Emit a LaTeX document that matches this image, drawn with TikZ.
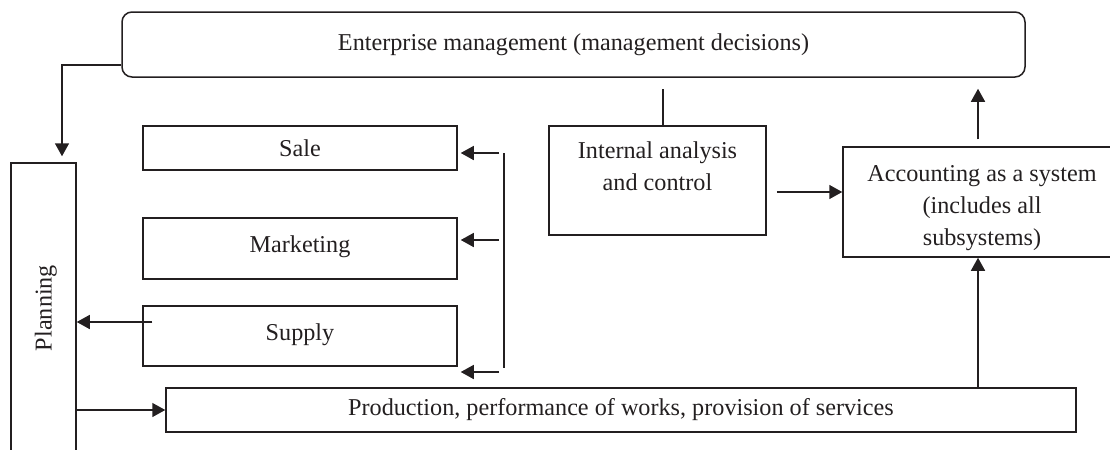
\documentclass[tikz,border=0pt]{standalone}
\usepackage{fontspec}
\setmainfont{Liberation Serif}
\usetikzlibrary{arrows.meta,calc}
\definecolor{ink}{HTML}{231F20}
\newcommand{\dnstrut}[1]{\rule[-#1]{0pt}{#1}}
\begin{document}
\begin{tikzpicture}[x=0.5pt,y=-0.5pt,
  box/.style={draw=ink, line width=0.75pt, inner sep=0pt, text=ink,
    font=\fontsize{12.1pt}{16pt}\selectfont, align=center},
  arr/.style={draw=ink, line width=0.75pt, -{Triangle[length=6.5pt,width=7pt]}},
  ln/.style={draw=ink, line width=0.75pt}]
\useasboundingbox (0,0) rectangle (1110,450);

% nodes
\node[box, rounded corners=5pt, minimum width=451.5pt, minimum height=32.5pt] (top) at (573.5,44.5)
  {Enterprise management (management decisions)\dnstrut{2.7pt}};
\node[box, minimum width=32.5pt, minimum height=145pt] (planning) at (43.5,308)
  {\rotatebox{90}{\rule{0pt}{10.8pt}Planning}};
\node[box, minimum width=157pt, minimum height=22pt] (sale) at (300,148) {Sale};
\node[box, minimum width=157pt, minimum height=30.5pt] (marketing) at (300,248.5) {Marketing\dnstrut{4pt}};
\node[box, minimum width=157pt, minimum height=30pt] (supply) at (300,336) {Supply\dnstrut{3.7pt}};
\node[box, minimum width=108.5pt, minimum height=54.5pt] (internal) at (657.5,180.5)
  {Internal analysis\\and control\dnstrut{14.7pt}};
\node[box, minimum width=139pt, minimum height=55pt] (accounting) at (982,202)
  {\rule{0pt}{14.1pt}Accounting as a system\\(includes all\\subsystems)};
\node[box, minimum width=455pt, minimum height=22pt] (production) at (621,410)
  {Production, performance of works, provision of services};

% connectors
\coordinate (a1) at ($(top.west)+(0,20.5)$);
\draw[arr, shorten >=3pt] (a1) -| ($(planning.north)+(18.5,0)$);

\coordinate (c1) at ($(internal.north)+(5.5,0)$);
\draw[ln, shorten >=5.5pt] (c1) -- (c1 |- top.south);

\coordinate (c2) at ($(internal.east)+(0,11.5)$);
\draw[arr, shorten <=5pt] (c2) -- (c2 -| accounting.west);

\coordinate (c3) at ($(accounting.north)+(-4,0)$);
\draw[arr, shorten <=3.5pt, shorten >=5.5pt] (c3) -- (c3 |- top.south);
\draw[arr] (c3 |- production.north) -- (c3 |- accounting.south);

\draw[arr] (planning.east |- production.west) -- (production.west);

\coordinate (c4) at ($(supply.west)+(10,-14)$);
\draw[arr] (c4) -- (c4 -| planning.east);

% bracket
\coordinate (bt) at (504,153);
\coordinate (bb) at (504,368);
\draw[ln] (bt) -- (bb);
\coordinate (r1) at (499,153);
\coordinate (r2) at (499,240);
\coordinate (r3) at (499,372);
\draw[arr, shorten >=1.5pt] (r1) -- (r1 -| sale.east);
\draw[arr, shorten >=1.5pt] (r2) -- (r2 -| marketing.east);
\draw[arr, shorten >=1.5pt] (r3) -- (r3 -| supply.east);
\end{tikzpicture}
\end{document}
